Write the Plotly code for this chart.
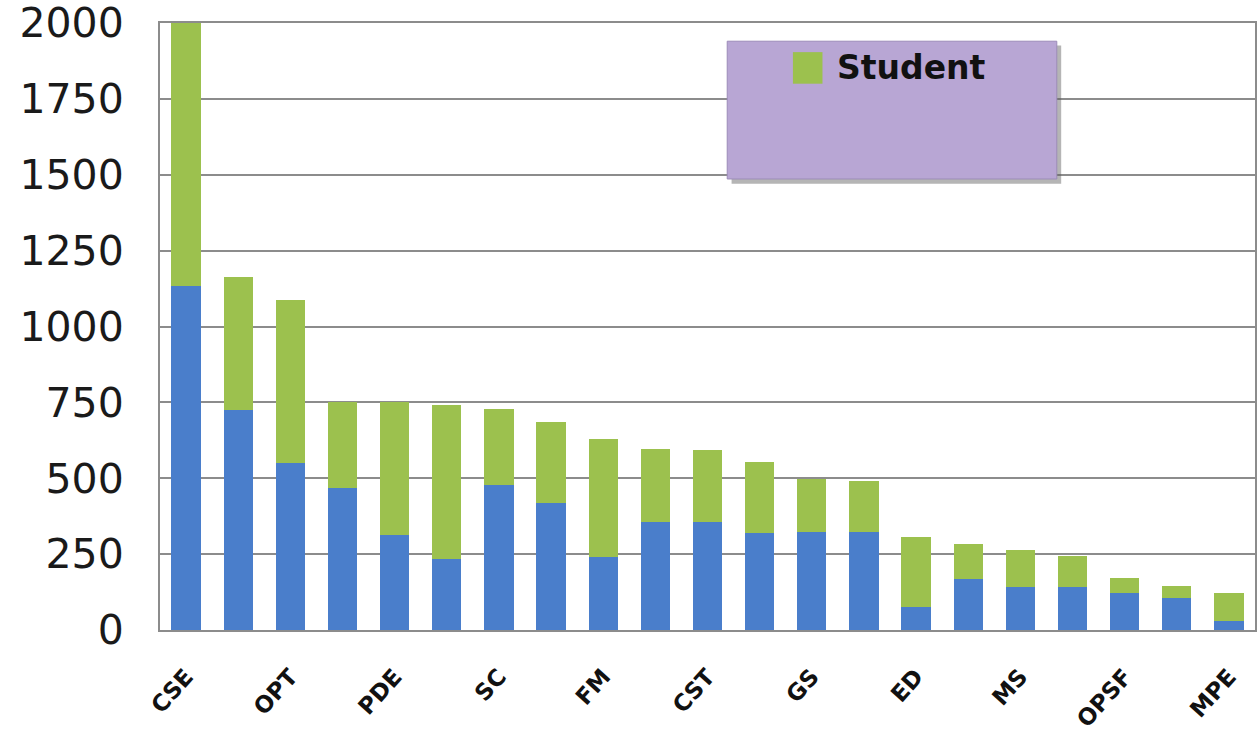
import plotly.graph_objects as go

# 21 bars, only every other one is labelled on the axis
bar_index = list(range(21))
tick_labels = ['CSE', 'OPT', 'PDE', 'SC', 'FM', 'CST', 'GS', 'ED', 'MS', 'OPSF', 'MPE']
tick_positions = bar_index[::2]

# stacked values: blue base part and total bar height
base_values = [1135, 725, 550, 468, 313, 235, 478, 418, 241, 356, 356,
               320, 322, 323, 76, 168, 142, 142, 122, 105, 30]
total_values = [2000, 1163, 1087, 750, 750, 740, 728, 685, 629, 596, 593,
                553, 497, 491, 306, 283, 263, 244, 171, 145, 122]
student_values = [t - b for t, b in zip(total_values, base_values)]

BLUE = '#4a7ecb'
GREEN = '#9cc14e'
GRID = '#8c8c8c'

fig = go.Figure()
fig.add_trace(go.Bar(x=bar_index, y=base_values, marker=dict(color=BLUE, line=dict(width=0)),
                     showlegend=False, name='Other'))
fig.add_trace(go.Bar(x=bar_index, y=student_values, marker=dict(color=GREEN, line=dict(width=0)),
                     showlegend=False, name='Student'))

# legend panel drawn by hand (purple box with shadow)
fig.add_shape(type='rect', xref='paper', yref='paper', x0=0.522, x1=0.823, y0=0.735, y1=0.963,
              fillcolor='rgba(90,90,90,0.45)', line=dict(width=0), layer='above')
fig.add_shape(type='rect', xref='paper', yref='paper', x0=0.518, x1=0.819, y0=0.743, y1=0.970,
              fillcolor='#b8a6d4', line=dict(color='#9c8cb8', width=1), layer='above')
fig.add_shape(type='rect', xref='paper', yref='paper', x0=0.578, x1=0.605, y0=0.9, y1=0.952,
              fillcolor=GREEN, line=dict(width=0), layer='above')
fig.add_annotation(xref='paper', yref='paper', x=0.616, y=0.926, text='<b>Student</b>',
                   showarrow=False, xanchor='left', yanchor='middle',
                   font=dict(family='DejaVu Sans', size=33, color='#111111'))

fig.update_layout(
    width=1258, height=735,
    margin=dict(l=160, r=3, t=23, b=105),
    barmode='stack', bargap=0.44,
    plot_bgcolor='white', paper_bgcolor='white',
    showlegend=False,
)
fig.update_xaxes(
    range=[-0.5, 20.5], tickmode='array', tickvals=tick_positions, ticktext=tick_labels,
    tickangle=-48, tickfont=dict(family='DejaVu Sans', size=23, color='#111111', weight='bold'),
    showline=True, linecolor=GRID, linewidth=2, mirror=True, showgrid=False,
    ticks='outside', ticklen=22, tickcolor='rgba(0,0,0,0)', automargin=False,
    ticklabeloverflow='allow',
)
fig.update_yaxes(
    range=[0, 2000], tickmode='array', tickvals=[0, 250, 500, 750, 1000, 1250, 1500, 1750, 2000],
    tickfont=dict(family='DejaVu Sans', size=41, color='#1a1a1a'),
    showgrid=True, gridcolor=GRID, gridwidth=2, zeroline=False,
    showline=True, linecolor=GRID, linewidth=2, mirror=True,
    ticks='outside', ticklen=26, tickcolor='rgba(0,0,0,0)', automargin=False,
    ticklabeloverflow='allow',
)

# page body has a default 8px margin; drop it so the figure sits at the corner
fig.write_html('out.html', config={'displayModeBar': False},
               post_script="document.body.style.margin='0';")
